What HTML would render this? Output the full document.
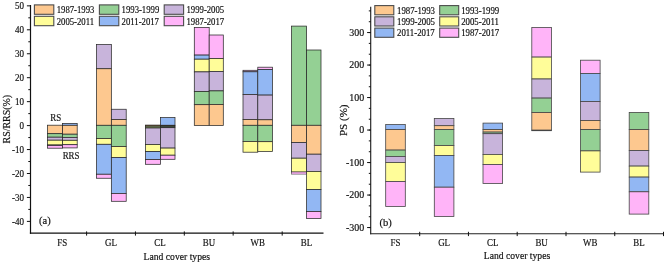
<!DOCTYPE html>
<html><head><meta charset="utf-8"><title>Land cover change</title>
<style>
html,body{margin:0;padding:0;background:#fff;}
body{width:667px;height:264px;overflow:hidden;}
svg{display:block;font-family:"Liberation Serif",serif;}
text{fill:#111;stroke:#111;stroke-width:0.18px;}
</style></head><body>
<svg width="667" height="264" viewBox="0 0 667 264">
<rect x="0" y="0" width="667" height="264" fill="#ffffff" stroke="none"/>
<rect x="47.60" y="125.20" width="15.00" height="8.50" fill="#FDC88F" stroke="#2a2a2a" stroke-width="0.75"/>
<rect x="47.60" y="133.70" width="15.00" height="3.50" fill="#94D094" stroke="#2a2a2a" stroke-width="0.75"/>
<rect x="47.60" y="137.20" width="15.00" height="3.00" fill="#C8B4DB" stroke="#2a2a2a" stroke-width="0.75"/>
<rect x="47.60" y="140.20" width="15.00" height="4.80" fill="#FFFD99" stroke="#2a2a2a" stroke-width="0.75"/>
<rect x="47.60" y="145.00" width="15.00" height="0.50" fill="#92B7F3" stroke="#2a2a2a" stroke-width="0.75"/>
<rect x="47.60" y="145.50" width="15.00" height="2.70" fill="#FFB4F8" stroke="#2a2a2a" stroke-width="0.75"/>
<rect x="62.60" y="123.40" width="14.60" height="1.90" fill="#92B7F3" stroke="#2a2a2a" stroke-width="0.75"/>
<rect x="62.60" y="125.30" width="14.60" height="8.90" fill="#FDC88F" stroke="#2a2a2a" stroke-width="0.75"/>
<rect x="62.60" y="134.20" width="14.60" height="3.20" fill="#94D094" stroke="#2a2a2a" stroke-width="0.75"/>
<rect x="62.60" y="137.40" width="14.60" height="2.90" fill="#C8B4DB" stroke="#2a2a2a" stroke-width="0.75"/>
<rect x="62.60" y="140.30" width="14.60" height="4.40" fill="#FFFD99" stroke="#2a2a2a" stroke-width="0.75"/>
<rect x="62.60" y="144.70" width="14.60" height="3.20" fill="#FFB4F8" stroke="#2a2a2a" stroke-width="0.75"/>
<rect x="96.50" y="44.50" width="14.85" height="24.25" fill="#C8B4DB" stroke="#2a2a2a" stroke-width="0.75"/>
<rect x="96.50" y="68.75" width="14.85" height="56.55" fill="#FDC88F" stroke="#2a2a2a" stroke-width="0.75"/>
<rect x="96.50" y="125.30" width="14.85" height="13.30" fill="#94D094" stroke="#2a2a2a" stroke-width="0.75"/>
<rect x="96.50" y="138.60" width="14.85" height="5.70" fill="#FFFD99" stroke="#2a2a2a" stroke-width="0.75"/>
<rect x="96.50" y="144.30" width="14.85" height="29.95" fill="#92B7F3" stroke="#2a2a2a" stroke-width="0.75"/>
<rect x="96.50" y="174.25" width="14.85" height="4.00" fill="#FFB4F8" stroke="#2a2a2a" stroke-width="0.75"/>
<rect x="111.35" y="109.25" width="14.85" height="10.25" fill="#C8B4DB" stroke="#2a2a2a" stroke-width="0.75"/>
<rect x="111.35" y="119.50" width="14.85" height="5.80" fill="#FDC88F" stroke="#2a2a2a" stroke-width="0.75"/>
<rect x="111.35" y="125.30" width="14.85" height="21.30" fill="#94D094" stroke="#2a2a2a" stroke-width="0.75"/>
<rect x="111.35" y="146.60" width="14.85" height="10.90" fill="#FFFD99" stroke="#2a2a2a" stroke-width="0.75"/>
<rect x="111.35" y="157.50" width="14.85" height="35.90" fill="#92B7F3" stroke="#2a2a2a" stroke-width="0.75"/>
<rect x="111.35" y="193.40" width="14.85" height="7.90" fill="#FFB4F8" stroke="#2a2a2a" stroke-width="0.75"/>
<rect x="145.60" y="125.10" width="14.85" height="1.00" fill="#FDC88F" stroke="#2a2a2a" stroke-width="0.75"/>
<rect x="145.60" y="126.10" width="14.85" height="1.90" fill="#94D094" stroke="#2a2a2a" stroke-width="0.75"/>
<rect x="145.60" y="128.00" width="14.85" height="16.50" fill="#C8B4DB" stroke="#2a2a2a" stroke-width="0.75"/>
<rect x="145.60" y="144.50" width="14.85" height="7.10" fill="#FFFD99" stroke="#2a2a2a" stroke-width="0.75"/>
<rect x="145.60" y="151.60" width="14.85" height="8.00" fill="#92B7F3" stroke="#2a2a2a" stroke-width="0.75"/>
<rect x="145.60" y="159.60" width="14.85" height="4.70" fill="#FFB4F8" stroke="#2a2a2a" stroke-width="0.75"/>
<rect x="160.45" y="117.60" width="14.55" height="7.70" fill="#92B7F3" stroke="#2a2a2a" stroke-width="0.75"/>
<rect x="160.45" y="125.30" width="14.55" height="0.90" fill="#FDC88F" stroke="#2a2a2a" stroke-width="0.75"/>
<rect x="160.45" y="126.20" width="14.55" height="1.50" fill="#94D094" stroke="#2a2a2a" stroke-width="0.75"/>
<rect x="160.45" y="127.70" width="14.55" height="20.40" fill="#C8B4DB" stroke="#2a2a2a" stroke-width="0.75"/>
<rect x="160.45" y="148.10" width="14.55" height="7.10" fill="#FFFD99" stroke="#2a2a2a" stroke-width="0.75"/>
<rect x="160.45" y="155.20" width="14.55" height="4.10" fill="#FFB4F8" stroke="#2a2a2a" stroke-width="0.75"/>
<rect x="145.60" y="125.1" width="14.85" height="2.9" fill="rgba(70,45,20,0.32)"/>
<rect x="160.45" y="125.3" width="14.55" height="2.4" fill="rgba(20,20,20,0.4)"/>
<rect x="194.30" y="27.40" width="14.90" height="27.70" fill="#FFB4F8" stroke="#2a2a2a" stroke-width="0.75"/>
<rect x="194.30" y="55.10" width="14.90" height="4.10" fill="#92B7F3" stroke="#2a2a2a" stroke-width="0.75"/>
<rect x="194.30" y="59.20" width="14.90" height="12.70" fill="#FFFD99" stroke="#2a2a2a" stroke-width="0.75"/>
<rect x="194.30" y="71.90" width="14.90" height="19.60" fill="#C8B4DB" stroke="#2a2a2a" stroke-width="0.75"/>
<rect x="194.30" y="91.50" width="14.90" height="13.20" fill="#94D094" stroke="#2a2a2a" stroke-width="0.75"/>
<rect x="194.30" y="104.70" width="14.90" height="20.80" fill="#FDC88F" stroke="#2a2a2a" stroke-width="0.75"/>
<rect x="209.20" y="35.00" width="14.10" height="23.50" fill="#FFB4F8" stroke="#2a2a2a" stroke-width="0.75"/>
<rect x="209.20" y="58.50" width="14.10" height="12.90" fill="#FFFD99" stroke="#2a2a2a" stroke-width="0.75"/>
<rect x="209.20" y="71.40" width="14.10" height="19.50" fill="#C8B4DB" stroke="#2a2a2a" stroke-width="0.75"/>
<rect x="209.20" y="90.90" width="14.10" height="13.60" fill="#94D094" stroke="#2a2a2a" stroke-width="0.75"/>
<rect x="209.20" y="104.50" width="14.10" height="21.00" fill="#FDC88F" stroke="#2a2a2a" stroke-width="0.75"/>
<rect x="243.00" y="70.30" width="14.80" height="1.50" fill="#FFB4F8" stroke="#2a2a2a" stroke-width="0.75"/>
<rect x="243.00" y="71.80" width="14.80" height="22.70" fill="#92B7F3" stroke="#2a2a2a" stroke-width="0.75"/>
<rect x="243.00" y="94.50" width="14.80" height="25.00" fill="#C8B4DB" stroke="#2a2a2a" stroke-width="0.75"/>
<rect x="243.00" y="119.50" width="14.80" height="5.80" fill="#FDC88F" stroke="#2a2a2a" stroke-width="0.75"/>
<rect x="243.00" y="125.30" width="14.80" height="16.20" fill="#94D094" stroke="#2a2a2a" stroke-width="0.75"/>
<rect x="243.00" y="141.50" width="14.80" height="10.70" fill="#FFFD99" stroke="#2a2a2a" stroke-width="0.75"/>
<rect x="257.80" y="67.20" width="14.60" height="2.30" fill="#FFB4F8" stroke="#2a2a2a" stroke-width="0.75"/>
<rect x="257.80" y="69.50" width="14.60" height="25.60" fill="#92B7F3" stroke="#2a2a2a" stroke-width="0.75"/>
<rect x="257.80" y="95.10" width="14.60" height="24.70" fill="#C8B4DB" stroke="#2a2a2a" stroke-width="0.75"/>
<rect x="257.80" y="119.80" width="14.60" height="5.50" fill="#FDC88F" stroke="#2a2a2a" stroke-width="0.75"/>
<rect x="257.80" y="125.30" width="14.60" height="16.40" fill="#94D094" stroke="#2a2a2a" stroke-width="0.75"/>
<rect x="257.80" y="141.70" width="14.60" height="9.80" fill="#FFFD99" stroke="#2a2a2a" stroke-width="0.75"/>
<rect x="291.60" y="26.10" width="15.00" height="99.20" fill="#94D094" stroke="#2a2a2a" stroke-width="0.75"/>
<rect x="291.60" y="125.30" width="15.00" height="17.20" fill="#FDC88F" stroke="#2a2a2a" stroke-width="0.75"/>
<rect x="291.60" y="142.50" width="15.00" height="15.70" fill="#C8B4DB" stroke="#2a2a2a" stroke-width="0.75"/>
<rect x="291.60" y="158.20" width="15.00" height="13.80" fill="#FFFD99" stroke="#2a2a2a" stroke-width="0.75"/>
<rect x="291.60" y="172.00" width="15.00" height="2.10" fill="#FFB4F8" stroke="#2a2a2a" stroke-width="0.5"/>
<rect x="306.60" y="50.00" width="14.40" height="75.30" fill="#94D094" stroke="#2a2a2a" stroke-width="0.75"/>
<rect x="306.60" y="125.30" width="14.40" height="28.90" fill="#FDC88F" stroke="#2a2a2a" stroke-width="0.75"/>
<rect x="306.60" y="154.20" width="14.40" height="17.20" fill="#C8B4DB" stroke="#2a2a2a" stroke-width="0.75"/>
<rect x="306.60" y="171.40" width="14.40" height="18.10" fill="#FFFD99" stroke="#2a2a2a" stroke-width="0.75"/>
<rect x="306.60" y="189.50" width="14.40" height="22.00" fill="#92B7F3" stroke="#2a2a2a" stroke-width="0.75"/>
<rect x="306.60" y="211.50" width="14.40" height="7.00" fill="#FFB4F8" stroke="#2a2a2a" stroke-width="0.75"/>
<line x1="30.50" y1="5.00" x2="30.50" y2="233.80" stroke="#111" stroke-width="1.2"/>
<line x1="29.90" y1="233.20" x2="323.50" y2="233.20" stroke="#111" stroke-width="1.2"/>
<line x1="26.90" y1="221.40" x2="30.50" y2="221.40" stroke="#111" stroke-width="1.0"/>
<text transform="translate(24.00,224.80) scale(0.86,1)" font-size="10.5" text-anchor="end">-40</text>
<line x1="26.90" y1="197.45" x2="30.50" y2="197.45" stroke="#111" stroke-width="1.0"/>
<text transform="translate(24.00,200.85) scale(0.86,1)" font-size="10.5" text-anchor="end">-30</text>
<line x1="28.30" y1="209.42" x2="30.50" y2="209.42" stroke="#111" stroke-width="1.0"/>
<line x1="26.90" y1="173.50" x2="30.50" y2="173.50" stroke="#111" stroke-width="1.0"/>
<text transform="translate(24.00,176.90) scale(0.86,1)" font-size="10.5" text-anchor="end">-20</text>
<line x1="28.30" y1="185.47" x2="30.50" y2="185.47" stroke="#111" stroke-width="1.0"/>
<line x1="26.90" y1="149.55" x2="30.50" y2="149.55" stroke="#111" stroke-width="1.0"/>
<text transform="translate(24.00,152.95) scale(0.86,1)" font-size="10.5" text-anchor="end">-10</text>
<line x1="28.30" y1="161.52" x2="30.50" y2="161.52" stroke="#111" stroke-width="1.0"/>
<line x1="26.90" y1="125.60" x2="30.50" y2="125.60" stroke="#111" stroke-width="1.0"/>
<text transform="translate(24.00,129.00) scale(0.86,1)" font-size="10.5" text-anchor="end">0</text>
<line x1="28.30" y1="137.57" x2="30.50" y2="137.57" stroke="#111" stroke-width="1.0"/>
<line x1="26.90" y1="101.65" x2="30.50" y2="101.65" stroke="#111" stroke-width="1.0"/>
<text transform="translate(24.00,105.05) scale(0.86,1)" font-size="10.5" text-anchor="end">10</text>
<line x1="28.30" y1="113.62" x2="30.50" y2="113.62" stroke="#111" stroke-width="1.0"/>
<line x1="26.90" y1="77.70" x2="30.50" y2="77.70" stroke="#111" stroke-width="1.0"/>
<text transform="translate(24.00,81.10) scale(0.86,1)" font-size="10.5" text-anchor="end">20</text>
<line x1="28.30" y1="89.67" x2="30.50" y2="89.67" stroke="#111" stroke-width="1.0"/>
<line x1="26.90" y1="53.75" x2="30.50" y2="53.75" stroke="#111" stroke-width="1.0"/>
<text transform="translate(24.00,57.15) scale(0.86,1)" font-size="10.5" text-anchor="end">30</text>
<line x1="28.30" y1="65.72" x2="30.50" y2="65.72" stroke="#111" stroke-width="1.0"/>
<line x1="26.90" y1="29.80" x2="30.50" y2="29.80" stroke="#111" stroke-width="1.0"/>
<text transform="translate(24.00,33.20) scale(0.86,1)" font-size="10.5" text-anchor="end">40</text>
<line x1="28.30" y1="41.77" x2="30.50" y2="41.77" stroke="#111" stroke-width="1.0"/>
<line x1="26.90" y1="5.85" x2="30.50" y2="5.85" stroke="#111" stroke-width="1.0"/>
<text transform="translate(24.00,9.25) scale(0.86,1)" font-size="10.5" text-anchor="end">50</text>
<line x1="28.30" y1="17.82" x2="30.50" y2="17.82" stroke="#111" stroke-width="1.0"/>
<line x1="86.60" y1="231.40" x2="86.60" y2="235.60" stroke="#111" stroke-width="1.0"/>
<line x1="135.45" y1="231.40" x2="135.45" y2="235.60" stroke="#111" stroke-width="1.0"/>
<line x1="184.30" y1="231.40" x2="184.30" y2="235.60" stroke="#111" stroke-width="1.0"/>
<line x1="233.15" y1="231.40" x2="233.15" y2="235.60" stroke="#111" stroke-width="1.0"/>
<line x1="282.20" y1="231.40" x2="282.20" y2="235.60" stroke="#111" stroke-width="1.0"/>
<text transform="translate(62.30,245.90) scale(0.85,1)" font-size="10.5" text-anchor="middle">FS</text>
<text transform="translate(111.00,245.90) scale(0.85,1)" font-size="10.5" text-anchor="middle">GL</text>
<text transform="translate(160.00,245.90) scale(0.85,1)" font-size="10.5" text-anchor="middle">CL</text>
<text transform="translate(208.90,245.90) scale(0.85,1)" font-size="10.5" text-anchor="middle">BU</text>
<text transform="translate(257.70,245.90) scale(0.85,1)" font-size="10.5" text-anchor="middle">WB</text>
<text transform="translate(306.40,245.90) scale(0.85,1)" font-size="10.5" text-anchor="middle">BL</text>
<text transform="translate(176.80,259.90) scale(0.92,1)" font-size="10.5" text-anchor="middle">Land cover types</text>
<text transform="translate(9.9,119.2) rotate(-90)" font-size="10.4" text-anchor="middle" textLength="48.5" lengthAdjust="spacingAndGlyphs">RS/RRS(%)</text>
<text transform="translate(55.80,121.40) scale(0.85,1)" font-size="10.5" text-anchor="middle">RS</text>
<text transform="translate(71.10,158.60) scale(0.85,1)" font-size="10.5" text-anchor="middle">RRS</text>
<text transform="translate(39.00,224.30) scale(1.0,1)" font-size="10.5" text-anchor="start">(a)</text>
<rect x="34.40" y="4.90" width="19.40" height="9.40" fill="#FDC88F" stroke="#4c4c4c" stroke-width="1.1"/>
<text transform="translate(56.70,13.00) scale(0.87,1)" font-size="10" text-anchor="start">1987-1993</text>
<rect x="99.40" y="4.90" width="19.40" height="9.40" fill="#94D094" stroke="#4c4c4c" stroke-width="1.1"/>
<text transform="translate(121.60,13.00) scale(0.87,1)" font-size="10" text-anchor="start">1993-1999</text>
<rect x="164.20" y="4.90" width="19.40" height="9.40" fill="#C8B4DB" stroke="#4c4c4c" stroke-width="1.1"/>
<text transform="translate(186.50,13.00) scale(0.87,1)" font-size="10" text-anchor="start">1999-2005</text>
<rect x="34.40" y="16.30" width="19.40" height="9.40" fill="#FFFD99" stroke="#4c4c4c" stroke-width="1.1"/>
<text transform="translate(56.70,24.70) scale(0.87,1)" font-size="10" text-anchor="start">2005-2011</text>
<rect x="99.40" y="16.30" width="19.40" height="9.40" fill="#92B7F3" stroke="#4c4c4c" stroke-width="1.1"/>
<text transform="translate(121.60,24.70) scale(0.87,1)" font-size="10" text-anchor="start">2011-2017</text>
<rect x="164.20" y="16.30" width="19.40" height="9.40" fill="#FFB4F8" stroke="#4c4c4c" stroke-width="1.1"/>
<text transform="translate(186.50,24.70) scale(0.87,1)" font-size="10" text-anchor="start">1987-2017</text>
<rect x="385.70" y="124.50" width="19.60" height="5.10" fill="#92B7F3" stroke="#454545" stroke-width="0.8"/>
<rect x="385.70" y="129.60" width="19.60" height="20.50" fill="#FDC88F" stroke="#454545" stroke-width="0.8"/>
<rect x="385.70" y="150.10" width="19.60" height="6.30" fill="#94D094" stroke="#454545" stroke-width="0.8"/>
<rect x="385.70" y="156.40" width="19.60" height="6.10" fill="#C8B4DB" stroke="#454545" stroke-width="0.8"/>
<rect x="385.70" y="162.50" width="19.60" height="19.00" fill="#FFFD99" stroke="#454545" stroke-width="0.8"/>
<rect x="385.70" y="181.50" width="19.60" height="24.90" fill="#FFB4F8" stroke="#454545" stroke-width="0.8"/>
<rect x="434.30" y="118.50" width="19.60" height="7.20" fill="#C8B4DB" stroke="#454545" stroke-width="0.8"/>
<rect x="434.30" y="125.70" width="19.60" height="3.90" fill="#FDC88F" stroke="#454545" stroke-width="0.8"/>
<rect x="434.30" y="129.60" width="19.60" height="16.00" fill="#94D094" stroke="#454545" stroke-width="0.8"/>
<rect x="434.30" y="145.60" width="19.60" height="9.80" fill="#FFFD99" stroke="#454545" stroke-width="0.8"/>
<rect x="434.30" y="155.40" width="19.60" height="31.80" fill="#92B7F3" stroke="#454545" stroke-width="0.8"/>
<rect x="434.30" y="187.20" width="19.60" height="29.30" fill="#FFB4F8" stroke="#454545" stroke-width="0.8"/>
<rect x="483.00" y="123.10" width="19.60" height="6.50" fill="#92B7F3" stroke="#454545" stroke-width="0.8"/>
<rect x="483.00" y="129.60" width="19.60" height="2.50" fill="#FDC88F" stroke="#454545" stroke-width="0.8"/>
<rect x="483.00" y="132.10" width="19.60" height="1.60" fill="#94D094" stroke="#454545" stroke-width="0.8"/>
<rect x="483.00" y="133.70" width="19.60" height="20.70" fill="#C8B4DB" stroke="#454545" stroke-width="0.8"/>
<rect x="483.00" y="154.40" width="19.60" height="10.10" fill="#FFFD99" stroke="#454545" stroke-width="0.8"/>
<rect x="483.00" y="164.50" width="19.60" height="19.00" fill="#FFB4F8" stroke="#454545" stroke-width="0.8"/>
<rect x="531.80" y="27.40" width="19.60" height="29.70" fill="#FFB4F8" stroke="#454545" stroke-width="0.8"/>
<rect x="531.80" y="57.10" width="19.60" height="21.90" fill="#FFFD99" stroke="#454545" stroke-width="0.8"/>
<rect x="531.80" y="79.00" width="19.60" height="19.10" fill="#C8B4DB" stroke="#454545" stroke-width="0.8"/>
<rect x="531.80" y="98.10" width="19.60" height="14.50" fill="#94D094" stroke="#454545" stroke-width="0.8"/>
<rect x="531.80" y="112.60" width="19.60" height="17.60" fill="#FDC88F" stroke="#454545" stroke-width="0.8"/>
<rect x="531.80" y="130.20" width="19.60" height="0.50" fill="#92B7F3" stroke="#454545" stroke-width="0.8"/>
<rect x="580.50" y="60.20" width="19.60" height="13.20" fill="#FFB4F8" stroke="#454545" stroke-width="0.8"/>
<rect x="580.50" y="73.40" width="19.60" height="28.10" fill="#92B7F3" stroke="#454545" stroke-width="0.8"/>
<rect x="580.50" y="101.50" width="19.60" height="19.00" fill="#C8B4DB" stroke="#454545" stroke-width="0.8"/>
<rect x="580.50" y="120.50" width="19.60" height="9.10" fill="#FDC88F" stroke="#454545" stroke-width="0.8"/>
<rect x="580.50" y="129.60" width="19.60" height="21.30" fill="#94D094" stroke="#454545" stroke-width="0.8"/>
<rect x="580.50" y="150.90" width="19.60" height="21.20" fill="#FFFD99" stroke="#454545" stroke-width="0.8"/>
<rect x="629.20" y="112.40" width="19.60" height="17.20" fill="#94D094" stroke="#454545" stroke-width="0.8"/>
<rect x="629.20" y="129.60" width="19.60" height="21.00" fill="#FDC88F" stroke="#454545" stroke-width="0.8"/>
<rect x="629.20" y="150.60" width="19.60" height="15.50" fill="#C8B4DB" stroke="#454545" stroke-width="0.8"/>
<rect x="629.20" y="166.10" width="19.60" height="11.00" fill="#FFFD99" stroke="#454545" stroke-width="0.8"/>
<rect x="629.20" y="177.10" width="19.60" height="14.70" fill="#92B7F3" stroke="#454545" stroke-width="0.8"/>
<rect x="629.20" y="191.80" width="19.60" height="22.30" fill="#FFB4F8" stroke="#454545" stroke-width="0.8"/>
<line x1="370.70" y1="6.80" x2="370.70" y2="234.25" stroke="#222" stroke-width="1.15"/>
<line x1="370.15" y1="233.70" x2="664.00" y2="233.70" stroke="#222" stroke-width="1.1"/>
<line x1="367.10" y1="227.55" x2="370.70" y2="227.55" stroke="#111" stroke-width="1.0"/>
<text transform="translate(364.30,230.95) scale(0.95,1)" font-size="10.5" text-anchor="end">-300</text>
<line x1="367.10" y1="195.05" x2="370.70" y2="195.05" stroke="#111" stroke-width="1.0"/>
<text transform="translate(364.30,198.45) scale(0.95,1)" font-size="10.5" text-anchor="end">-200</text>
<line x1="367.10" y1="162.55" x2="370.70" y2="162.55" stroke="#111" stroke-width="1.0"/>
<text transform="translate(364.30,165.95) scale(0.95,1)" font-size="10.5" text-anchor="end">-100</text>
<line x1="367.10" y1="130.05" x2="370.70" y2="130.05" stroke="#111" stroke-width="1.0"/>
<text transform="translate(364.30,133.45) scale(0.95,1)" font-size="10.5" text-anchor="end">0</text>
<line x1="367.10" y1="97.55" x2="370.70" y2="97.55" stroke="#111" stroke-width="1.0"/>
<text transform="translate(364.30,100.95) scale(0.95,1)" font-size="10.5" text-anchor="end">100</text>
<line x1="367.10" y1="65.05" x2="370.70" y2="65.05" stroke="#111" stroke-width="1.0"/>
<text transform="translate(364.30,68.45) scale(0.95,1)" font-size="10.5" text-anchor="end">200</text>
<line x1="367.10" y1="32.55" x2="370.70" y2="32.55" stroke="#111" stroke-width="1.0"/>
<text transform="translate(364.30,35.95) scale(0.95,1)" font-size="10.5" text-anchor="end">300</text>
<line x1="368.80" y1="10.88" x2="370.70" y2="10.88" stroke="#111" stroke-width="1.0"/>
<line x1="368.80" y1="21.72" x2="370.70" y2="21.72" stroke="#111" stroke-width="1.0"/>
<line x1="368.80" y1="32.55" x2="370.70" y2="32.55" stroke="#111" stroke-width="1.0"/>
<line x1="368.80" y1="43.38" x2="370.70" y2="43.38" stroke="#111" stroke-width="1.0"/>
<line x1="368.80" y1="54.22" x2="370.70" y2="54.22" stroke="#111" stroke-width="1.0"/>
<line x1="368.80" y1="65.05" x2="370.70" y2="65.05" stroke="#111" stroke-width="1.0"/>
<line x1="368.80" y1="75.88" x2="370.70" y2="75.88" stroke="#111" stroke-width="1.0"/>
<line x1="368.80" y1="86.72" x2="370.70" y2="86.72" stroke="#111" stroke-width="1.0"/>
<line x1="368.80" y1="97.55" x2="370.70" y2="97.55" stroke="#111" stroke-width="1.0"/>
<line x1="368.80" y1="108.38" x2="370.70" y2="108.38" stroke="#111" stroke-width="1.0"/>
<line x1="368.80" y1="119.22" x2="370.70" y2="119.22" stroke="#111" stroke-width="1.0"/>
<line x1="368.80" y1="130.05" x2="370.70" y2="130.05" stroke="#111" stroke-width="1.0"/>
<line x1="368.80" y1="140.88" x2="370.70" y2="140.88" stroke="#111" stroke-width="1.0"/>
<line x1="368.80" y1="151.72" x2="370.70" y2="151.72" stroke="#111" stroke-width="1.0"/>
<line x1="368.80" y1="162.55" x2="370.70" y2="162.55" stroke="#111" stroke-width="1.0"/>
<line x1="368.80" y1="173.38" x2="370.70" y2="173.38" stroke="#111" stroke-width="1.0"/>
<line x1="368.80" y1="184.22" x2="370.70" y2="184.22" stroke="#111" stroke-width="1.0"/>
<line x1="368.80" y1="195.05" x2="370.70" y2="195.05" stroke="#111" stroke-width="1.0"/>
<line x1="368.80" y1="205.88" x2="370.70" y2="205.88" stroke="#111" stroke-width="1.0"/>
<line x1="368.80" y1="216.72" x2="370.70" y2="216.72" stroke="#111" stroke-width="1.0"/>
<line x1="368.80" y1="227.55" x2="370.70" y2="227.55" stroke="#111" stroke-width="1.0"/>
<line x1="419.70" y1="231.80" x2="419.70" y2="236.10" stroke="#111" stroke-width="1.0"/>
<line x1="468.45" y1="231.80" x2="468.45" y2="236.10" stroke="#111" stroke-width="1.0"/>
<line x1="517.20" y1="231.80" x2="517.20" y2="236.10" stroke="#111" stroke-width="1.0"/>
<line x1="566.00" y1="231.80" x2="566.00" y2="236.10" stroke="#111" stroke-width="1.0"/>
<line x1="614.75" y1="231.80" x2="614.75" y2="236.10" stroke="#111" stroke-width="1.0"/>
<line x1="663.50" y1="231.80" x2="663.50" y2="236.10" stroke="#111" stroke-width="1.0"/>
<text transform="translate(395.50,246.20) scale(0.85,1)" font-size="10.5" text-anchor="middle">FS</text>
<text transform="translate(444.10,246.20) scale(0.85,1)" font-size="10.5" text-anchor="middle">GL</text>
<text transform="translate(492.80,246.20) scale(0.85,1)" font-size="10.5" text-anchor="middle">CL</text>
<text transform="translate(541.60,246.20) scale(0.85,1)" font-size="10.5" text-anchor="middle">BU</text>
<text transform="translate(590.30,246.20) scale(0.85,1)" font-size="10.5" text-anchor="middle">WB</text>
<text transform="translate(639.00,246.20) scale(0.85,1)" font-size="10.5" text-anchor="middle">BL</text>
<text transform="translate(517.00,259.40) scale(0.92,1)" font-size="10.5" text-anchor="middle">Land cover types</text>
<text transform="translate(346.9,120.3) rotate(-90)" font-size="10.6" text-anchor="middle" textLength="31.6" lengthAdjust="spacingAndGlyphs">PS (%)</text>
<text transform="translate(379.40,225.80) scale(1.0,1)" font-size="10.5" text-anchor="start">(b)</text>
<rect x="374.80" y="5.60" width="19.00" height="9.20" fill="#FDC88F" stroke="#4c4c4c" stroke-width="1.1"/>
<text transform="translate(397.00,13.50) scale(0.915,1)" font-size="9.6" text-anchor="start">1987-1993</text>
<rect x="439.70" y="5.60" width="19.00" height="9.20" fill="#94D094" stroke="#4c4c4c" stroke-width="1.1"/>
<text transform="translate(461.20,13.50) scale(0.915,1)" font-size="9.6" text-anchor="start">1993-1999</text>
<rect x="374.80" y="16.80" width="19.00" height="9.20" fill="#C8B4DB" stroke="#4c4c4c" stroke-width="1.1"/>
<text transform="translate(397.00,24.70) scale(0.915,1)" font-size="9.6" text-anchor="start">1999-2005</text>
<rect x="439.70" y="16.80" width="19.00" height="9.20" fill="#FFFD99" stroke="#4c4c4c" stroke-width="1.1"/>
<text transform="translate(461.20,24.70) scale(0.915,1)" font-size="9.6" text-anchor="start">2005-2011</text>
<rect x="374.80" y="28.10" width="19.00" height="9.20" fill="#92B7F3" stroke="#4c4c4c" stroke-width="1.1"/>
<text transform="translate(397.00,36.00) scale(0.915,1)" font-size="9.6" text-anchor="start">2011-2017</text>
<rect x="439.70" y="28.10" width="19.00" height="9.20" fill="#FFB4F8" stroke="#4c4c4c" stroke-width="1.1"/>
<text transform="translate(461.20,36.00) scale(0.915,1)" font-size="9.6" text-anchor="start">1987-2017</text>
</svg>
</body></html>
